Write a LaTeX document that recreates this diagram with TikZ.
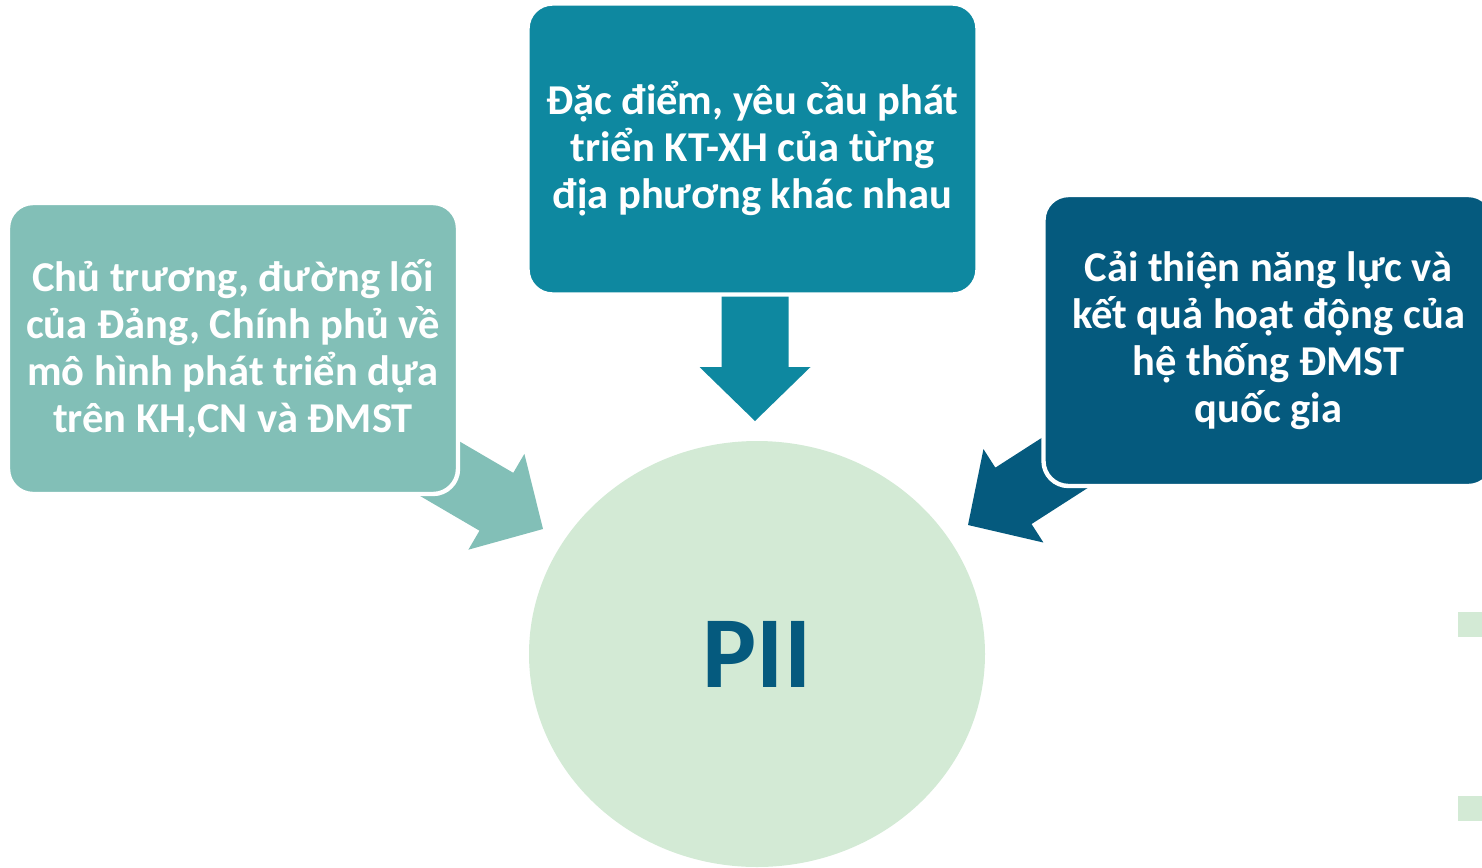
\documentclass[tikz,border=0pt]{standalone}
\usepackage{fontspec}
\setmainfont{Carlito}
\usepackage{xcolor}
\usetikzlibrary{shapes.geometric}

\definecolor{lightteal}{HTML}{82BFB7}
\definecolor{midteal}{HTML}{0E88A0}
\definecolor{darkblue}{HTML}{055A7E}
\definecolor{palegreen}{HTML}{D3EAD5}

\begin{document}
\begin{tikzpicture}
\tikzstyle{box}=[draw=white, line width=2.5pt, rounded corners=0.5cm, minimum width=9.0cm, minimum height=5.82cm, align=center, text=white, font=\fontsize{24.2}{26.7}\selectfont\bfseries]
\tikzstyle{hub}=[ellipse, fill=palegreen, minimum width=9.12cm, minimum height=8.52cm, inner sep=0pt, text=darkblue, font=\fontsize{58}{60}\selectfont\bfseries]
\tikzset{blockarrow/.pic={\path[pic actions] (0,0) -- (-1.08,1.11) -- (-1.08,0.67) -- (-2.8,0.67) -- (-2.8,-0.67) -- (-1.08,-0.67) -- (-1.08,-1.11) -- cycle;}}
\clip (0,0) rectangle (29.64,-17.34);

\node (pii) [hub] at (15.14,-13.08) {PII};

% arrows go under the boxes
\pic (marr) [fill=midteal, rotate=-90] at (15.10,-8.42) {blockarrow};
\pic (larr) [fill=lightteal, rotate=-30.3] at (10.86,-10.58) {blockarrow};
\pic (rarr) [fill=darkblue, rotate=212.7] at (19.36,-10.50) {blockarrow};

\node (mbox) [box, fill=midteal] at (15.05,-2.98) {Đặc điểm, yêu cầu phát\\triển KT-XH của từng\\địa phương khác nhau};
\node (lbox) [box, fill=lightteal] at (4.66,-6.97) {Chủ trương, đường lối\\của Đảng, Chính phủ về\\mô hình phát triển dựa\\trên KH,CN và ĐMST};
\node (rbox) [box, fill=darkblue] at (25.37,-6.81) {Cải thiện năng lực và\\kết quả hoạt động của\\hệ thống ĐMST\\quốc gia};

\fill[palegreen] (29.16,-12.24) rectangle ++(0.6,-0.5);
\fill[palegreen] (29.16,-15.92) rectangle ++(0.6,-0.5);
\end{tikzpicture}
\end{document}
